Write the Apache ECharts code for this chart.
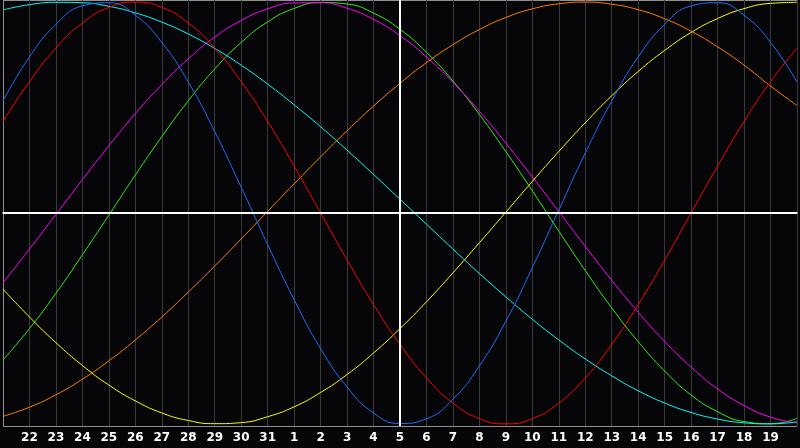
<!DOCTYPE html>
<html>
<head>
<meta charset="utf-8">
<script src="https://cdn.jsdelivr.net/npm/echarts@6/dist/echarts.min.js"></script>
<style>
html,body{margin:0;padding:0;background:#060609;}
#c{width:800px;height:448px;}
</style>
</head>
<body>
<div id="c"></div>
<script>
// Day labels along the bottom (one per vertical grid line)
var days = ['21','22','23','24','25','26','27','28','29','30','31','1','2','3','4','5','6','7','8','9','10','11','12','13','14','15','16','17','18','19','20'];
var today = '5';

// Cycle values (percent), one per day
var physical = [53.1,74.0,89.4,98.2,99.7,93.8,80.9,62.1,38.6,12.2,-15.0,-41.1,-64.3,-82.5,-94.8,-99.8,-97.6,-88.3,-72.5,-51.3,-25.9,1.4,28.4,53.1,74.0,89.4,98.2,99.7,93.8,80.9,62.1];
var emotional = [43.4,62.3,78.2,90.1,97.5,100,97.5,90.1,78.2,62.3,43.4,22.3,0,-22.3,-43.4,-62.3,-78.2,-90.1,-97.5,-100,-97.5,-90.1,-78.2,-62.3,-43.4,-22.3,0,22.3,43.4,62.3,78.2];
var intellectual = [-69.7,-54.8,-38.1,-19.8,-1.0,18.0,36.2,53.2,68.3,80.9,90.6,97.0,99.8,99.1,94.8,87.1,76.2,62.6,46.7,29.1,10.5,-8.6,-27.3,-45.0,-61.0,-74.9,-86.3,-94.2,-98.9,-99.9,-97.4];
var intuitive = [-33.1,-17.1,-0.7,15.8,31.9,47.1,60.9,73.1,83.4,91.3,96.8,99.6,99.7,97.1,91.8,84.1,74.0,61.9,48.2,33.1,17.1,0.7,-15.8,-31.9,-47.0,-60.9,-73.1,-83.4,-91.3,-96.8,-99.6];
var aesthetic = [-36.1,-49.3,-61.5,-72.3,-81.6,-89.1,-94.8,-98.4,-99.9,-99.4,-96.6,-91.9,-85.1,-76.6,-66.4,-54.8,-42.1,-28.4,-14.1,0.4,15.0,29.2,42.8,55.6,67.1,77.1,85.6,92.2,96.9,99.4,99.9];
var awareness = [-96.4,-92.1,-86.2,-78.8,-70.1,-60.2,-49.3,-37.5,-25.1,-12.3,0.8,13.8,26.6,39.0,50.7,61.5,71.3,79.8,87.0,92.7,96.8,99.2,100,99.0,96.4,92.1,86.2,78.8,70.1,60.2,51.0];
var spiritual = [96.3,98.8,99.9,99.7,98.0,94.9,90.5,84.9,78.0,70.1,61.1,51.3,40.9,29.8,18.3,6.5,-5.3,-17.1,-28.7,-39.8,-50.4,-60.2,-69.2,-77.2,-84.3,-90.1,-94.6,-97.7,-99.5,-100,-99.0];

var seriesDefs = [
  {name:'Intellectual', data:intellectual, color:'#33ee11'},
  {name:'Intuitive', data:intuitive, color:'#ff00ff'},
  {name:'Aesthetic', data:aesthetic, color:'#ffff00'},
  {name:'Awareness', data:awareness, color:'#ff8000'},
  {name:'Spiritual', data:spiritual, color:'#00ffff'},
  {name:'Emotional', data:emotional, color:'#ff0000'},
  {name:'Physical', data:physical, color:'#1e6eff'}
];

var chart = echarts.init(document.getElementById('c'), null, {renderer:'canvas'});
var series = seriesDefs.map(function(s){
  return {
    name: s.name,
    type: 'line',
    data: s.data,
    smooth: 0.5,
    symbol: 'none',
    silent: true,
    lineStyle: {color: s.color, width: 1},
    z: 3
  };
});
series.push({
  name: 'ref',
  type: 'line',
  data: [],
  symbol: 'none',
  silent: true,
  z: 2,
  markLine: {
    silent: true,
    symbol: 'none',
    label: {show: false},
    animation: false,
    lineStyle: {color: '#ffffff', width: 2, type: 'solid'},
    data: [{yAxis: 0}, {xAxis: today}]
  }
});

chart.setOption({
  backgroundColor: '#060609',
  animation: false,
  grid: {left: 0, right: 0, top: 0, bottom: 22, containLabel: false},
  xAxis: {
    type: 'category',
    data: days,
    boundaryGap: false,
    axisLine: {show: true, lineStyle: {color: '#a0a0a0', width: 2}},
    axisTick: {show: false},
    splitLine: {show: true, lineStyle: {color: '#3a3a3a', width: 1}},
    axisLabel: {
      interval: 0,
      margin: 6,
      color: '#ffffff',
      fontFamily: 'DejaVu Sans',
      fontWeight: 'bold',
      fontSize: 12,
      formatter: function(v, i){ return (i === 0 || i === days.length - 1) ? '' : v; }
    }
  },
  yAxis: {
    type: 'value',
    min: -101,
    max: 101,
    interval: 101,
    axisLine: {show: true, lineStyle: {color: '#909090', width: 1}},
    axisTick: {show: false},
    axisLabel: {show: false},
    splitLine: {show: true, lineStyle: {color: ['#909090', 'rgba(0,0,0,0)', '#909090'], width: 1}}
  },
  series: series
});
</script>
</body>
</html>
